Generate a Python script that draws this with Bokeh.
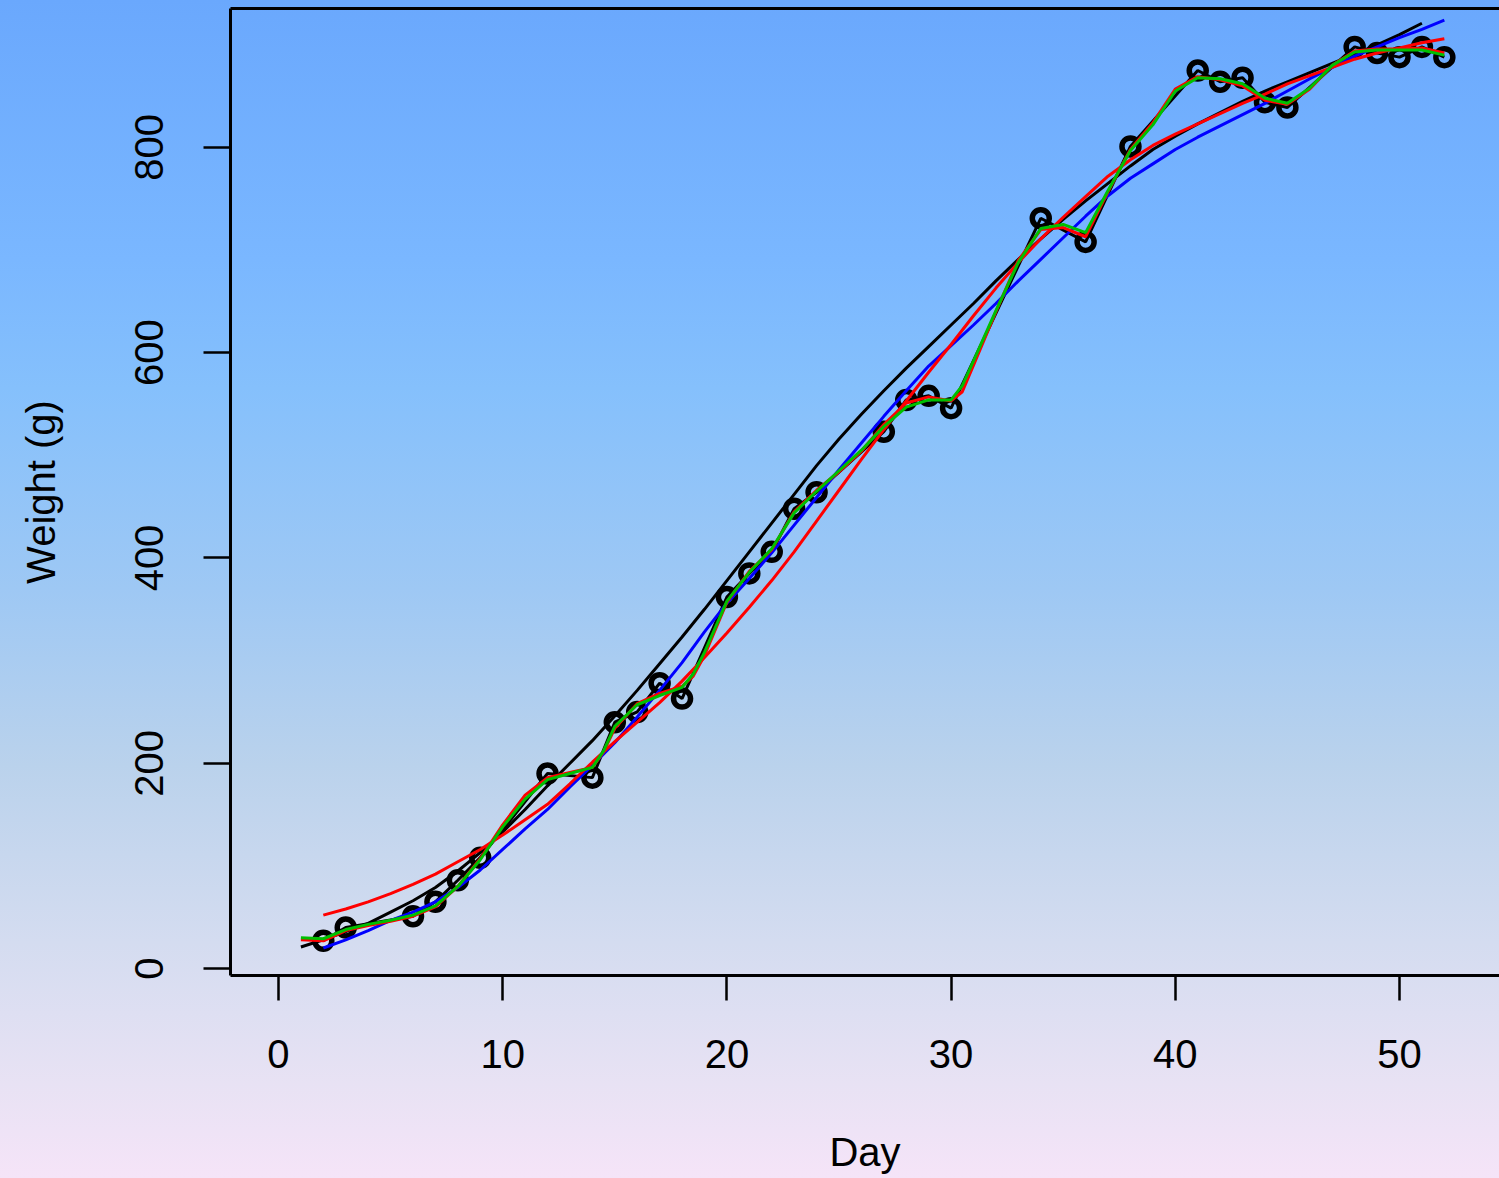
from bokeh.plotting import figure
from bokeh.models import Range1d, LinearAxis, FixedTicker
from bokeh.embed import file_html
from bokeh.resources import INLINE

# ---- data ----
days = [2, 3, 6, 7, 8, 9, 12, 14, 15, 16, 17, 18, 20, 21, 22, 23, 24, 27, 28, 29, 30,
        34, 36, 38, 41, 42, 43, 44, 45, 48, 49, 50, 51, 52]
weights = [27, 40, 51, 65, 86, 108, 190, 186, 240, 250, 278, 263, 362, 385, 406, 448, 464,
           523, 554, 558, 546, 731, 708, 801, 875, 864, 868, 844, 839, 898, 892, 888, 898, 888]

black_smooth_day = list(range(1, 52))
black_smooth_w = [21, 28, 36, 44, 55, 66, 79, 95, 113, 133, 155, 178, 200, 222, 246, 271, 297,
                  323, 350, 378, 406, 434, 462, 490, 516, 540, 563, 585, 606, 627, 648, 670,
                  691, 711, 730, 748, 765, 782, 798, 811, 823, 834, 845, 855, 864, 873, 882,
                  891, 900, 910, 921]

blue_smooth_day = list(range(2, 53))
blue_smooth_w = [20, 28, 37, 47, 55, 65, 79, 96, 116, 136, 155, 177, 198, 220, 245, 271, 298,
                 328, 356, 380, 405, 432, 459, 486, 512, 538, 563, 587, 607, 627, 648, 670,
                 691, 712, 733, 753, 770, 784, 798, 810, 821, 832, 843, 855, 867, 878, 889,
                 898, 907, 915, 924]

red_smooth_day = list(range(2, 53))
red_smooth_w = [52, 58, 65, 73, 82, 92, 104, 116, 130, 145, 160, 180, 201, 221, 240, 259, 280,
                303, 327, 352, 378, 406, 436, 466, 496, 525, 553, 581, 608, 636, 663, 688,
                711, 732, 752, 772, 788, 802, 813, 823, 833, 843, 852, 862, 870, 878, 886,
                892, 897, 902, 906]

green_day = [1, 2, 3, 4, 5, 6, 7, 8, 9, 10, 11, 12, 13, 14, 14.5, 15, 16, 17, 18, 18.5, 19, 20,
             21, 22, 23, 24, 25, 26, 27, 28, 29, 30, 30.5, 31, 32, 33, 34, 35, 36, 37, 38, 39,
             40, 41, 42, 43, 44, 45, 46, 47, 48, 49, 50, 51, 52]
green_w = [30, 29, 38, 43, 47, 52, 61, 80, 106, 138, 165, 184, 190, 196, 212, 236, 257, 266, 274,
           287, 308, 358, 386, 409, 444, 465, 485, 505, 528, 547, 554, 554, 568, 592, 641, 688,
           721, 725, 717, 758, 797, 822, 855, 868, 867, 862, 848, 843, 858, 880, 893, 895, 895,
           895, 890]

red_wig_day = [1, 2, 3, 4, 5, 6, 7, 8, 9, 10, 11, 12, 13, 14, 14.5, 15, 16, 17, 18, 18.5, 19, 20,
               21, 22, 23, 24, 25, 26, 27, 28, 29, 30, 30.5, 31, 32, 33, 34, 35, 36, 37, 38, 39,
               40, 41, 42, 43, 44, 45, 46, 47, 48, 49, 50, 51, 52]
red_wig_w = [28, 27, 37, 42, 46, 51, 60, 80, 107, 140, 169, 186, 191, 196, 211, 234, 258, 268,
             275, 285, 305, 357, 387, 408, 445, 466, 484, 504, 530, 551, 557, 553, 562, 588, 640,
             690, 720, 722, 713, 757, 798, 824, 857, 869, 866, 860, 846, 842, 857, 880, 894,
             896, 896, 897, 892]

x_ticks = [0, 10, 20, 30, 40, 50]
y_ticks = [0, 200, 400, 600, 800]

FONT = "Liberation Sans"

p = figure(width=1499, height=1178, output_backend="svg", toolbar_location=None,
           x_range=Range1d(-2.14, 54.46), y_range=Range1d(-6.8, 935.4),
           min_border_left=230, min_border_right=0, min_border_top=8, min_border_bottom=203,
           x_axis_label="Day", y_axis_label="Weight (g)")
p.background_fill_alpha = 0
p.border_fill_alpha = 0
p.outline_line_color = None
p.grid.visible = False
p.styles = {
    "background": "linear-gradient(to bottom, rgb(106,168,253) 0%, rgb(122,183,255) 22%, "
                  "rgb(133,192,252) 33%, rgb(158,200,244) 50%, rgb(186,210,236) 65%, "
                  "rgb(212,220,240) 80%, rgb(232,226,244) 92%, rgb(245,228,248) 100%)",
}

for ax in (p.xaxis[0], p.yaxis[0]):
    ax.axis_line_width = 3
    ax.axis_line_color = "black"
    ax.major_tick_line_width = 2.5
    ax.major_tick_in = 0
    ax.minor_tick_line_color = None
    ax.major_label_text_font = FONT
    ax.major_label_text_font_size = "40px"
    ax.major_label_text_color = "black"
    ax.axis_label_text_font = FONT
    ax.axis_label_text_font_size = "40px"
    ax.axis_label_text_font_style = "normal"
    ax.axis_label_text_color = "black"

p.xaxis[0].ticker = FixedTicker(ticks=x_ticks)
p.xaxis[0].major_tick_out = 25
p.xaxis[0].major_label_standoff = 39
p.xaxis[0].axis_label_standoff = 59

p.yaxis[0].ticker = FixedTicker(ticks=y_ticks)
p.yaxis[0].major_tick_out = 27
p.yaxis[0].major_label_orientation = "vertical"
p.yaxis[0].major_label_standoff = 40
p.yaxis[0].axis_label_standoff = 70

top = LinearAxis(ticker=FixedTicker(ticks=[]), axis_line_width=3, axis_line_color="black",
                 major_tick_line_color=None, minor_tick_line_color=None,
                 major_label_text_font_size="0px")
p.add_layout(top, "above")

# points (drawn first, lines on top)
p.scatter(days, weights, marker="circle", size=17, fill_color=None,
          line_color="black", line_width=5.5)

# lines
p.line(days, weights, line_color="black", line_width=3)
p.line(black_smooth_day, black_smooth_w, line_color="black", line_width=3)
p.line(blue_smooth_day, blue_smooth_w, line_color="blue", line_width=3)
p.line(red_smooth_day, red_smooth_w, line_color="red", line_width=3)
p.line(red_wig_day, red_wig_w, line_color="red", line_width=3)
p.line(green_day, green_w, line_color="#00c000", line_width=3)

open("out.html", "w").write(file_html(p, INLINE))
